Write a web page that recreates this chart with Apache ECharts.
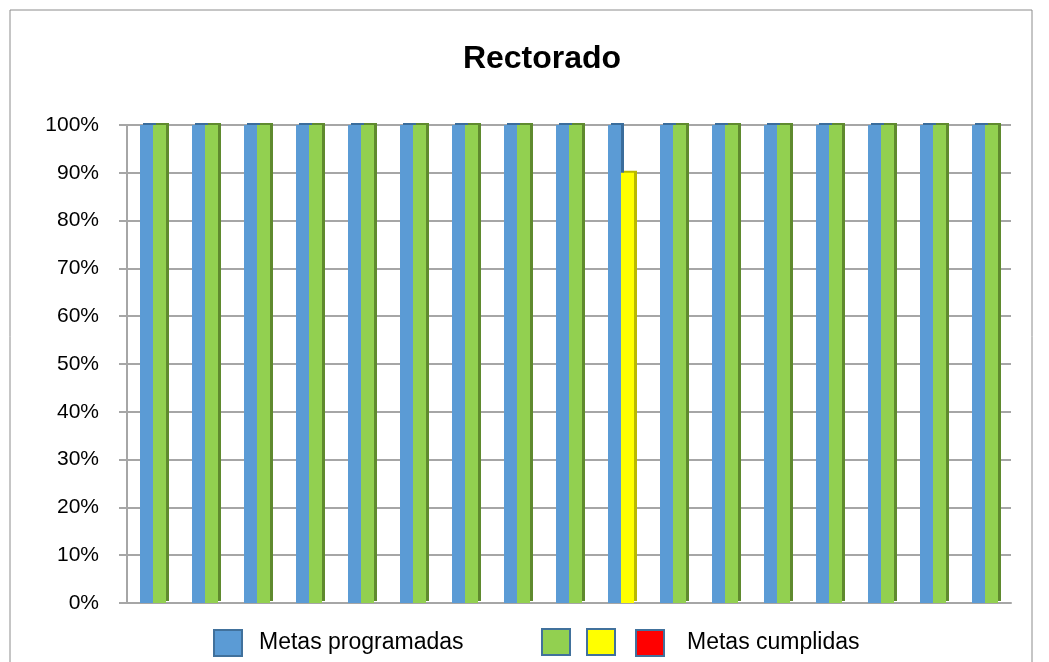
<!DOCTYPE html>
<html>
<head>
<meta charset="utf-8">
<script src="https://cdn.jsdelivr.net/npm/echarts@6/dist/echarts.min.js"></script>
<style>
  html, body { margin: 0; padding: 0; background: #fff; }
  #chart { width: 1049px; height: 662px; }
</style>
</head>
<body>
<div id="chart"></div>
<script>
// 17 metas del Rectorado
const categories = ["1", "2", "3", "4", "5", "6", "7", "8", "9", "10", "11", "12", "13", "14", "15", "16", "17"];
const programadas = [1, 1, 1, 1, 1, 1, 1, 1, 1, 1, 1, 1, 1, 1, 1, 1, 1];
const cumplidas = [1, 1, 1, 1, 1, 1, 1, 1, 1, 0.9, 1, 1, 1, 1, 1, 1, 1];
const yTicks = [0, 0.1, 0.2, 0.3, 0.4, 0.5, 0.6, 0.7, 0.8, 0.9, 1];

const font = "'Liberation Sans', Arial, sans-serif";
const blue = "#5b9bd5", green = "#92d050", yellow = "#ffff00", red = "#ff0000";

// colour of a met goal depends on how much was achieved
function nivel(v) {
  if (v >= 1) return { c: green, s: "#5f8a2e" };
  if (v >= 0.8) return { c: yellow, s: "#b8b800" };
  return { c: red, s: "#a00000" };
}

const myChart = echarts.init(document.getElementById("chart"));
const option = {
  animation: false,
  title: {
    text: "Rectorado",
    left: 537,
    textAlign: "center",
    top: 38,
    textStyle: { fontFamily: font, fontSize: 32, fontWeight: "bold", color: "#000" }
  },
  legend: [
    {
      left: 208, top: 624,
      icon: "rect",
      itemWidth: 28, itemHeight: 26,
      data: [{ name: "Metas programadas", itemStyle: { color: blue, borderColor: "#41719c", borderWidth: 2 } }],
      textStyle: { fontFamily: font, fontSize: 23, color: "#000", padding: [0, 0, 0, 12] }
    },
    {
      left: 630, top: 624,
      icon: "rect",
      itemWidth: 28, itemHeight: 26,
      data: [{ name: "Metas cumplidas", itemStyle: { color: red, borderColor: "#41719c", borderWidth: 2 } }],
      textStyle: { fontFamily: font, fontSize: 23, color: "#000", padding: [0, 0, 0, 18] }
    }
  ],
  graphic: [
    { type: "rect", shape: { x: 10, y: 10, width: 1022, height: 660 }, style: { fill: "none", stroke: "#8c8c8c", lineWidth: 1 }, silent: true },
    { type: "rect", shape: { x: 542, y: 629, width: 28, height: 26 }, style: { fill: green, stroke: "#41719c", lineWidth: 2 } },
    { type: "rect", shape: { x: 587, y: 629, width: 28, height: 26 }, style: { fill: yellow, stroke: "#41719c", lineWidth: 2 } }
  ],
  grid: { left: 127, right: 38, top: 125, bottom: 59 },
  xAxis: {
    type: "category",
    data: categories,
    axisLabel: { show: false },
    axisTick: { show: false },
    axisLine: { lineStyle: { color: "#a6a6a6", width: 2 } }
  },
  yAxis: {
    type: "value",
    min: 0, max: 1, interval: 0.1,
    axisLine: { show: true, lineStyle: { color: "#a6a6a6", width: 2 } },
    axisTick: { show: true, length: 8, lineStyle: { color: "#a6a6a6", width: 2 } },
    splitLine: { lineStyle: { color: "#a6a6a6", width: 2 } },
    axisLabel: {
      margin: 28,
      fontFamily: font, fontSize: 21, color: "#000",
      formatter: v => yTicks.includes(Math.round(v * 10) / 10) ? Math.round(v * 100) + "%" : ""
    }
  },
  series: [
    {
      name: "Metas programadas",
      type: "bar",
      data: programadas,
      barWidth: 13,
      barGap: "0%",
      itemStyle: { color: blue, shadowColor: "#3a6d9c", shadowOffsetX: 3, shadowOffsetY: -2 }
    },
    {
      name: "Metas cumplidas",
      type: "bar",
      data: cumplidas.map(v => ({
        value: v,
        itemStyle: { color: nivel(v).c, shadowColor: nivel(v).s, shadowOffsetX: 3, shadowOffsetY: -2 }
      })),
      barWidth: 13,
      itemStyle: { color: green }
    }
  ]
};
myChart.setOption(option);
</script>
</body>
</html>
